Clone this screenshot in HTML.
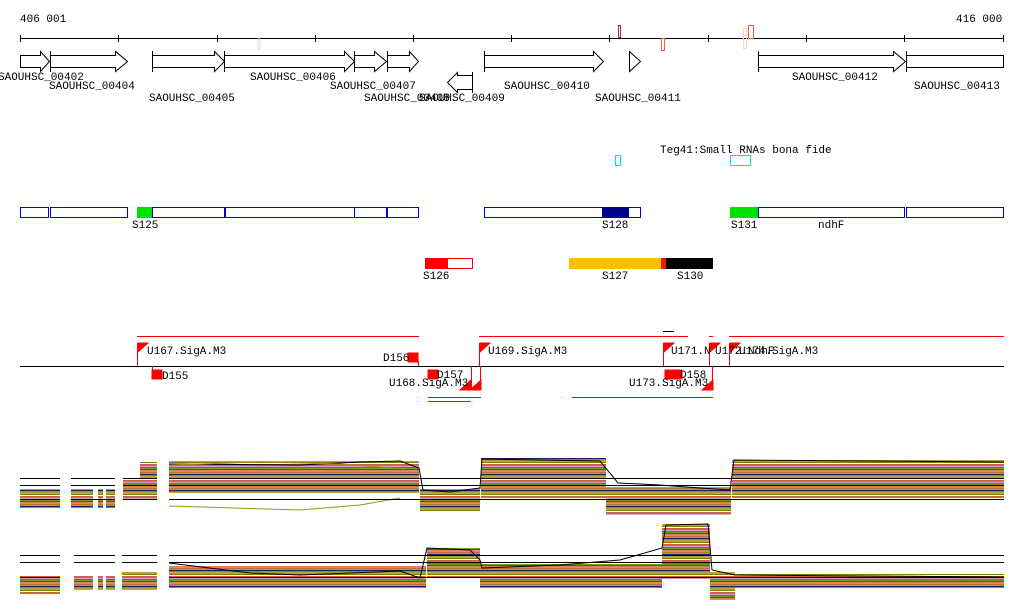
<!DOCTYPE html>
<html><head><meta charset="utf-8"><style>
html,body{margin:0;padding:0;background:#fff}
svg{display:block}
text{font-family:"Liberation Mono","DejaVu Sans Mono",monospace;font-size:11px;fill:#000}
</style></head><body>
<svg width="1024" height="611" viewBox="0 0 1024 611" xmlns="http://www.w3.org/2000/svg">
<defs>
<pattern id="st" width="40" height="16" patternUnits="userSpaceOnUse">
<rect width="40" height="16" fill="#fff"/>
<rect y="0" width="40" height="1" fill="#d0603a"/>
<rect y="1" width="40" height="1" fill="#a09020"/>
<rect y="2" width="40" height="1" fill="#c8a0c8"/>
<rect y="3" width="40" height="1" fill="#e04020"/>
<rect y="4" width="40" height="1" fill="#70a020"/>
<rect y="5" width="40" height="1" fill="#a0207a"/>
<rect y="6" width="40" height="1" fill="#e08050"/>
<rect y="7" width="40" height="1" fill="#60b0e0"/>
<rect y="8" width="40" height="1" fill="#c07030"/>
<rect y="9" width="40" height="1" fill="#80c000"/>
<rect y="10" width="40" height="1" fill="#202060"/>
<rect y="11" width="40" height="1" fill="#e06040"/>
<rect y="12" width="40" height="1" fill="#b0a040"/>
<rect y="13" width="40" height="1" fill="#d080c0"/>
<rect y="14" width="40" height="1" fill="#808000"/>
</pattern>
</defs>
<!-- ruler -->
<text x="20" y="22">406 001</text>
<text x="956" y="22">416 000</text>
<line x1="20" y1="38.5" x2="1004" y2="38.5" stroke="#000"/>
<g stroke="#000">
<line x1="20.5" y1="35" x2="20.5" y2="42"/><line x1="118.5" y1="35" x2="118.5" y2="42"/><line x1="217.5" y1="35" x2="217.5" y2="42"/><line x1="315.5" y1="35" x2="315.5" y2="42"/><line x1="413.5" y1="35" x2="413.5" y2="42"/><line x1="511.5" y1="35" x2="511.5" y2="42"/><line x1="609.5" y1="35" x2="609.5" y2="42"/><line x1="708.5" y1="35" x2="708.5" y2="42"/><line x1="806.5" y1="35" x2="806.5" y2="42"/><line x1="904.5" y1="35" x2="904.5" y2="42"/><line x1="1003.5" y1="35" x2="1003.5" y2="42"/>
</g>
<rect x="258" y="39" width="2" height="10" fill="none" stroke="#f4d0c8"/>
<rect x="618.5" y="25.5" width="2" height="12" fill="none" stroke="#c02020"/>
<rect x="661.5" y="38.5" width="3" height="12" fill="none" stroke="#f06040"/>
<rect x="743.5" y="28.5" width="3" height="20" fill="none" stroke="#f8d8c8"/>
<rect x="748.5" y="25.5" width="5" height="13" fill="none" stroke="#f06040"/>
<!-- genes -->
<g fill="#fff" stroke="#000">
<path d="M20.5 55.5H40.5V51.5L49.5 61.5L40.5 71.5V67.5H20.5Z"/>
<path d="M50.5 55.5H115.5V51.5L127.5 61.5L115.5 71.5V67.5H50.5Z"/>
<path d="M152.5 55.5H214.5V51.5L224.5 61.5L214.5 71.5V67.5H152.5Z"/>
<path d="M224.5 55.5H344.5V51.5L354.5 61.5L344.5 71.5V67.5H224.5Z"/>
<path d="M354.5 55.5H374.5V51.5L386.5 61.5L374.5 71.5V67.5H354.5Z"/>
<path d="M387.5 55.5H409.5V51.5L418.5 61.5L409.5 71.5V67.5H387.5Z"/>
<path d="M472.5 75.5H457.5V72.5L447.5 82.5L457.5 92.5V89.5H472.5Z"/>
<path d="M484.5 55.5H593.5V51.5L603.5 61.5L593.5 71.5V67.5H484.5Z"/>
<path d="M629.5 51.5L640.5 61.5L629.5 71.5Z"/>
<path d="M758.5 55.5H893.5V51.5L905.5 61.5L893.5 71.5V67.5H758.5Z"/>
<path d="M906.5 55.5H1003.5V67.5H906.5Z"/>
</g>
<g stroke="#000">
<line x1="50.5" y1="51" x2="50.5" y2="72"/><line x1="152.5" y1="51" x2="152.5" y2="72"/><line x1="224.5" y1="51" x2="224.5" y2="72"/><line x1="354.5" y1="51" x2="354.5" y2="72"/><line x1="387.5" y1="51" x2="387.5" y2="72"/><line x1="472.5" y1="72" x2="472.5" y2="93"/><line x1="484.5" y1="51" x2="484.5" y2="72"/><line x1="629.5" y1="51" x2="629.5" y2="72"/><line x1="758.5" y1="51" x2="758.5" y2="72"/><line x1="906.5" y1="51" x2="906.5" y2="72"/>
</g>
<text x="-2" y="80">SAOUHSC_00402</text>
<text x="49" y="89">SAOUHSC_00404</text>
<text x="149" y="101">SAOUHSC_00405</text>
<text x="250" y="80">SAOUHSC_00406</text>
<text x="330" y="89">SAOUHSC_00407</text>
<text x="364" y="101">SAOUHSC_00408</text>
<text x="419" y="101">SAOUHSC_00409</text>
<text x="504" y="89">SAOUHSC_00410</text>
<text x="595" y="101">SAOUHSC_00411</text>
<text x="792" y="80">SAOUHSC_00412</text>
<text x="914" y="89">SAOUHSC_00413</text>
<!-- sRNA -->
<text x="660" y="153">Teg41:Small RNAs bona fide</text>
<rect x="615.5" y="155.5" width="5" height="10" fill="none" stroke="#00e0f0"/>
<rect x="730.5" y="155.5" width="20" height="10" fill="none" stroke="#00e0f0"/>
<!-- blue row -->
<g fill="#fff" stroke="#0000e0">
<rect x="20.5" y="207.5" width="28" height="10"/><rect x="50.5" y="207.5" width="77" height="10"/>
<rect x="152.5" y="207.5" width="72" height="10"/><rect x="225.5" y="207.5" width="129" height="10"/>
<rect x="354.5" y="207.5" width="32" height="10"/><rect x="387.5" y="207.5" width="31" height="10"/>
<rect x="484.5" y="207.5" width="156" height="10"/>
<rect x="758.5" y="207.5" width="146" height="10"/><rect x="906.5" y="207.5" width="97" height="10"/>
</g>
<rect x="137" y="207" width="15" height="11" fill="#00e000"/>
<rect x="602" y="207" width="27" height="11" fill="#00008c"/>
<rect x="730" y="207" width="28" height="11" fill="#00e000"/>
<text x="132" y="228">S125</text><text x="602" y="228">S128</text><text x="731" y="228">S131</text><text x="818" y="228">ndhF</text>
<!-- S126 etc -->
<rect x="425.5" y="258.5" width="47" height="10" fill="#fff" stroke="#f00"/>
<rect x="425" y="258" width="23" height="11" fill="#f00"/>
<text x="423" y="279">S126</text>
<rect x="569" y="258" width="92" height="11" fill="#f8c000"/>
<rect x="661" y="258" width="5" height="11" fill="#e02000"/>
<rect x="666" y="258" width="47" height="11" fill="#000"/>
<text x="602" y="279">S127</text><text x="677" y="279">S130</text>
<!-- promoters -->
<g stroke="#f00">
<line x1="137" y1="336.5" x2="419" y2="336.5"/>
<line x1="479" y1="336.5" x2="688" y2="336.5"/>
<line x1="709" y1="336.5" x2="713" y2="336.5"/>
<line x1="729" y1="336.5" x2="1004" y2="336.5"/>
<line x1="663" y1="331.5" x2="674" y2="331.5" stroke="#000"/>
<line x1="428" y1="397.5" x2="481" y2="397.5"/>
<line x1="428" y1="401.5" x2="471" y2="401.5"/>
<line x1="572" y1="397.5" x2="713" y2="397.5"/>
</g>
<line x1="20" y1="366.5" x2="1004" y2="366.5" stroke="#000"/>
<g fill="#f00" stroke="#f00">
<line x1="137.5" y1="343" x2="137.5" y2="366"/><path d="M138 343H148L138 352Z"/>
<line x1="479.5" y1="343" x2="479.5" y2="366"/><path d="M480 343H490L480 352Z"/>
<line x1="663.5" y1="343" x2="663.5" y2="366"/><path d="M664 343H674L664 352Z"/>
<line x1="709.5" y1="343" x2="709.5" y2="366"/><path d="M710 343H720L710 352Z"/>
<line x1="729.5" y1="343" x2="729.5" y2="366"/><path d="M730 343H740L730 352Z"/>
<rect x="408" y="353" width="10" height="9"/><line x1="418.5" y1="361" x2="418.5" y2="366"/>
<rect x="152" y="370" width="10" height="9"/><line x1="152.5" y1="366" x2="152.5" y2="379"/>
<rect x="428" y="370" width="10" height="9"/>
<rect x="665" y="370" width="17" height="9"/>
<path d="M470 390L481 380V390Z"/><line x1="480.5" y1="366" x2="480.5" y2="390"/>
<path d="M460 390L471 380V390Z"/><line x1="471.5" y1="366" x2="471.5" y2="390"/>
<path d="M702 390L713 380V390Z"/><line x1="712.5" y1="366" x2="712.5" y2="390"/>
</g>
<text x="147" y="354">U167.SigA.M3</text>
<text x="383" y="361">D156</text>
<text x="162" y="379">D155</text>
<text x="437" y="378">D157</text>
<text x="389" y="386">U168.SigA.M3</text>
<text x="488" y="354">U169.SigA.M3</text>
<text x="671" y="354">U171.N</text>
<text x="715" y="354">U172.NdhF</text>
<text x="739" y="354">U174.SigA.M3</text>
<text x="680" y="378">D158</text>
<text x="629" y="386">U173.SigA.M3</text>
<!-- expression plot 1 -->
<g fill="url(#st)">
<rect x="20" y="489" width="40" height="19"/>
<rect x="71" y="489" width="22" height="19"/><rect x="98" y="489" width="5" height="19"/><rect x="106" y="489" width="9" height="19"/>
<rect x="123" y="480" width="17" height="20"/><rect x="140" y="462" width="17" height="38"/>
<rect x="169" y="461" width="250" height="32"/>
<rect x="420" y="489" width="60" height="22"/>
<rect x="481" y="458" width="125" height="40"/>
<rect x="606" y="487" width="125" height="28"/>
<rect x="732" y="460" width="272" height="38"/>
</g>
<g stroke="#000" fill="none">
<polyline points="169,464 300,465 360,462 400,461 419,468 423,490 450,492 480,488 482,459 600,461 618,483 660,485 700,488 730,490 734,460 1004,462"/>
<polyline points="169,465 260,462 340,464 405,469" stroke="#a09020"/>
<polyline points="169,506 300,510 360,505 400,498" stroke="#a09020"/>
</g>
<g stroke="#000">
<line x1="20" y1="478.5" x2="60" y2="478.5"/><line x1="71" y1="478.5" x2="115" y2="478.5"/><line x1="123" y1="478.5" x2="157" y2="478.5"/><line x1="169" y1="478.5" x2="1004" y2="478.5"/>
<line x1="20" y1="485.5" x2="60" y2="485.5"/><line x1="71" y1="485.5" x2="115" y2="485.5"/><line x1="123" y1="485.5" x2="157" y2="485.5"/><line x1="169" y1="485.5" x2="1004" y2="485.5"/>
<line x1="20" y1="499.5" x2="60" y2="499.5"/><line x1="71" y1="499.5" x2="115" y2="499.5"/><line x1="123" y1="499.5" x2="157" y2="499.5"/><line x1="169" y1="499.5" x2="1004" y2="499.5"/>
</g>
<!-- expression plot 2 -->
<g fill="url(#st)">
<rect x="20" y="576" width="40" height="18"/>
<rect x="74" y="576" width="19" height="14"/><rect x="98" y="576" width="5" height="14"/><rect x="106" y="576" width="9" height="14"/>
<rect x="122" y="572" width="35" height="18"/>
<rect x="169" y="566" width="257" height="22"/>
<rect x="427" y="548" width="53" height="30"/>
<rect x="480" y="564" width="182" height="24"/>
<rect x="662" y="524" width="48" height="55"/>
<rect x="710" y="572" width="25" height="28"/>
<rect x="735" y="574" width="269" height="14"/>
</g>
<g stroke="#000" fill="none">
<polyline points="169,563 250,573 300,575 400,571 420,578 427,548 470,550 480,560 482,568 560,565 620,560 662,548 666,525 708,524 712,570 735,575 1004,577"/>
</g>
<g stroke="#000">
<line x1="20" y1="555.5" x2="60" y2="555.5"/><line x1="74" y1="555.5" x2="115" y2="555.5"/><line x1="122" y1="555.5" x2="157" y2="555.5"/><line x1="169" y1="555.5" x2="1004" y2="555.5"/>
<line x1="20" y1="562.5" x2="60" y2="562.5"/><line x1="74" y1="562.5" x2="115" y2="562.5"/><line x1="122" y1="562.5" x2="157" y2="562.5"/><line x1="169" y1="562.5" x2="1004" y2="562.5"/>
<line x1="20" y1="577.5" x2="60" y2="577.5"/><line x1="169" y1="577.5" x2="1004" y2="577.5"/>
</g>
</svg>
</body></html>
